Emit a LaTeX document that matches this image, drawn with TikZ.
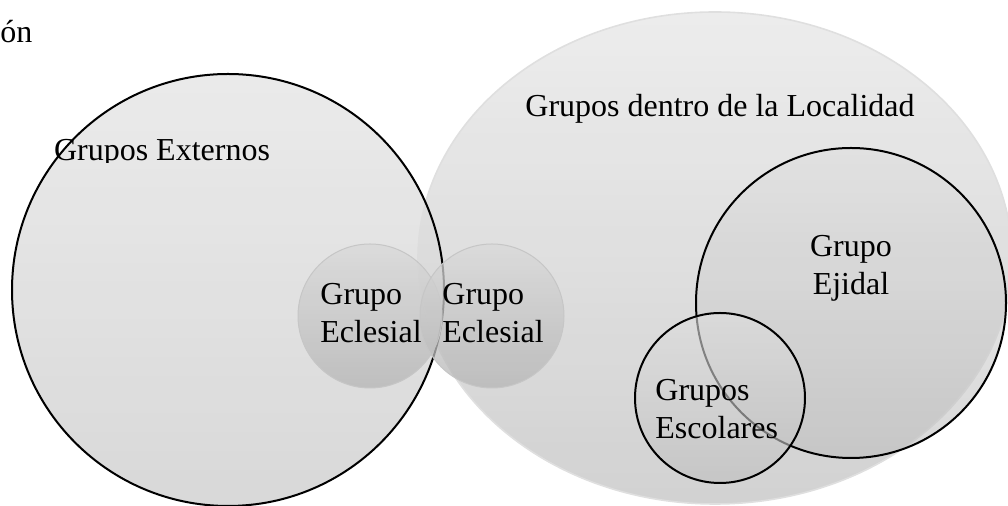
\documentclass[tikz,border=0pt]{standalone}
\usepackage{fontspec}
\setmainfont{Liberation Serif}
\usetikzlibrary{shapes, positioning}
\tikzstyle{zona} = [ellipse, inner sep = 0, draw = gray!25, line width = 0.8pt,
  top color = gray!17, bottom color = gray!42, fill opacity = 0.85]
\tikzstyle{grande} = [circle, inner sep = 0, top color = gray!20,
  bottom color = gray!38, fill opacity = 0.8]
\tikzstyle{medio} = [circle, inner sep = 0, draw = black, line width = 1pt,
  top color = gray!25, bottom color = gray!50, fill opacity = 0.6]
\tikzstyle{bola} = [
  circle, inner sep = 0,
  minimum size = 72pt,
  draw = gray!45, line width = 0.5pt,
  top color = gray!30, bottom color = gray!58, fill opacity = 0.75
]
\tikzstyle{rotulo} = [inner sep = 0, font = \fontsize{16}{19}\selectfont]

\begin{document}
\begin{tikzpicture}[x = 0.5pt, y = -0.5pt]
      \useasboundingbox (0, 0) rectangle (1008, 506);
      % zonas
      \node [zona, minimum width = 297pt, minimum height = 246pt] (loc) at (715, 258) {};
      \node [grande, minimum size = 216pt] (ext) at (228, 290) {};
      \node [medio, minimum width = 144pt, minimum height = 155pt] (ejidal) at (851, 303) {};
      \node [medio, minimum size = 85pt] (escolar) at (720, 398) {};
      \draw [line width = 1pt] (ext.center) circle [radius = 108pt];
      % grupos eclesiales
      \node [bola] (ecl-a) at (370, 316) {};
      \node [bola] (ecl-b) at (492, 316) {};

      \node [rotulo, anchor = base west] (corte) at (0, 43) {ón};
      \node [rotulo, anchor = base] (loc-txt) at (720, 117) {Grupos dentro de la Localidad};
      \begin{scope}
        \clip (0, 0) rectangle (1008, 163);
        \node [rotulo, anchor = base] (ext-txt) at (162, 161) {Grupos Externos};
      \end{scope}
      \node [rotulo, align = left, anchor = base west] (ecl-a-txt) at (320, 343) {Grupo\\Eclesial};
      \node [rotulo, align = left, anchor = base west] (ecl-b-txt) at (442, 343) {Grupo\\Eclesial};
      \node [rotulo, align = center, anchor = base] (ejidal-txt) at (851, 295) {Grupo\\Ejidal};
      \node [rotulo, align = left, anchor = base west] (escolar-txt) at (655, 439) {Grupos\\Escolares};
    \end{tikzpicture}
\end{document}
